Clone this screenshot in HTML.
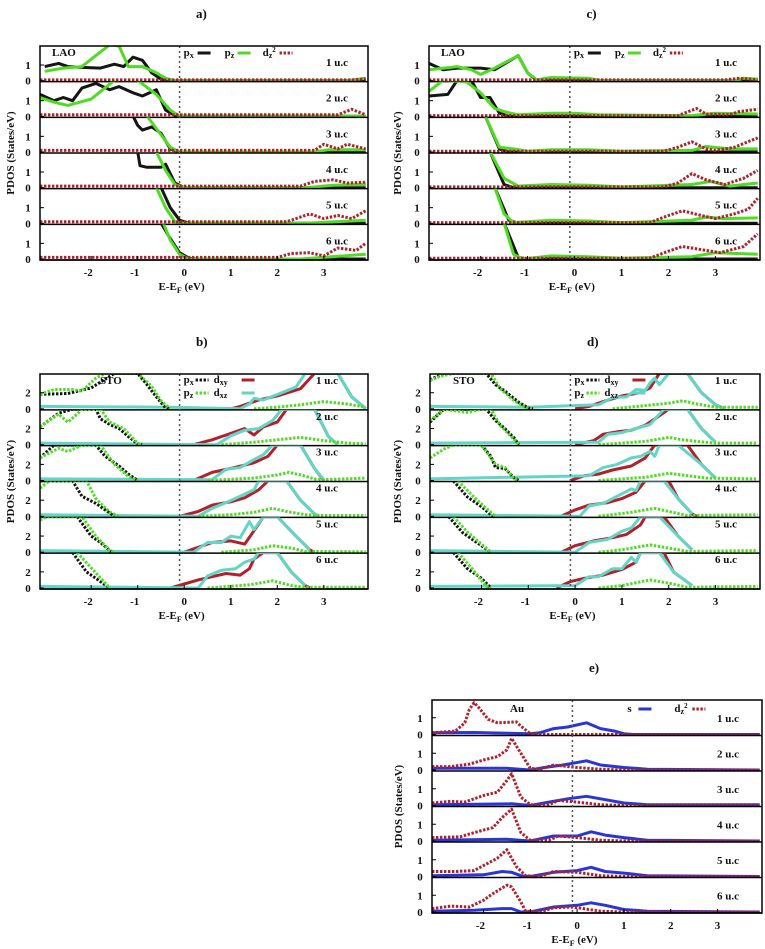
<!DOCTYPE html>
<html><head><meta charset="utf-8"><style>
body{margin:0;background:#fff;}
svg{display:block;}
text{font-family:"Liberation Serif",serif;font-weight:bold;fill:#111;}
</style></head><body>
<svg id="fig" width="765" height="949" viewBox="0 0 765 949" xmlns="http://www.w3.org/2000/svg"></svg>
<script>
// ---------- data (energy eV, PDOS) per panel, per series, per unit-cell subplot ----------
const xTicks=[-2,-1,0,1,2,3];
const ucLabels=["1 u.c","2 u.c","3 u.c","4 u.c","5 u.c","6 u.c"];
// Panel a (LAO)
const a_px=[[[-3,0.9],[-2.7,1.1],[-2.5,0.9],[-2.2,0.85],[-1.8,0.8],[-1.5,1.05],[-1.3,0.9],[-1.1,1.5],[-0.9,1.3],[-0.7,0.5],[-0.5,0.1],[-0.3,0],[3.9,0]],
[[-3.1,1.4],[-2.8,1.0],[-2.6,1.2],[-2.4,1.0],[-2.2,1.8],[-1.9,2.1],[-1.6,1.7],[-1.4,1.9],[-1.1,1.5],[-0.9,1.3],[-0.6,1.7],[-0.4,0.4],[-0.2,0.05],[0,0],[3.9,0]],
[[-1.1,2.3],[-1.0,1.7],[-0.9,1.4],[-0.7,1.6],[-0.5,1.2],[-0.3,0.2],[-0.1,0],[3.9,0]],
[[-1.0,2.3],[-0.95,1.4],[-0.8,1.3],[-0.5,1.3],[-0.4,1.5],[-0.2,0.3],[0,0],[3.9,0]],
[[-0.5,2.3],[-0.3,1.0],[-0.1,0.2],[0.1,0],[3.9,0]],
[[-0.5,2.3],[-0.3,1.3],[-0.1,0.4],[0.1,0.05],[0.3,0],[3.9,0]]];
const a_pz=[[[-3,0.6],[-2.6,0.8],[-2.2,0.9],[-1.9,1.6],[-1.6,2.3],[-1.4,2.2],[-1.2,0.9],[-0.9,0.9],[-0.6,0.5],[-0.4,0.15],[-0.2,0],[3.5,0],[3.9,0.15]],
[[-3.1,1.2],[-2.8,0.9],[-2.5,0.7],[-2,1.1],[-1.5,2.3],[-1,2.3],[-0.6,1.4],[-0.3,0.4],[-0.1,0],[3.9,0]],
[[-0.8,2.3],[-0.6,1.5],[-0.3,0.3],[-0.1,0],[2.8,0],[3.1,0.15],[3.9,0.15]],
[[-0.6,2.3],[-0.4,1.1],[-0.2,0.2],[0,0],[2.6,0],[3.2,0.15],[3.9,0.2]],
[[-0.6,2.3],[-0.4,1.0],[-0.2,0.1],[0,0],[2.6,0],[3.9,0.2]],
[[-0.45,2.3],[-0.3,1.2],[-0.1,0.3],[0.1,0],[2.5,0],[3.9,0.3]]];
const a_dz2=[[[-3.1,0.05],[3.6,0.05],[3.9,0.12]],
[[-3.1,0.1],[3.3,0.1],[3.6,0.45],[3.9,0.1]],
[[-3.1,0.1],[2.8,0.1],[3.0,0.5],[3.3,0.2],[3.5,0.5],[3.9,0.2]],
[[-3.1,0.1],[2.5,0.1],[2.8,0.4],[3.2,0.5],[3.5,0.3],[3.9,0.35]],
[[-3.1,0.1],[2.2,0.1],[2.7,0.6],[3.0,0.3],[3.3,0.5],[3.6,0.3],[3.9,0.8]],
[[-3.1,0.1],[2.0,0.1],[2.3,0.35],[2.7,0.4],[3.0,0.2],[3.3,0.7],[3.7,0.55],[3.9,1.0]]];
// Panel c (LAO)
const c_px=[[[-3.1,1.1],[-2.8,0.7],[-2.5,0.8],[-2,0.8],[-1.7,0.7],[-1.2,1.6],[-1.0,0.5],[-0.8,0],[3.9,0]],
[[-3.1,1.3],[-2.7,1.4],[-2.5,2.3],[-2.2,2.3],[-2,1.2],[-1.8,1.2],[-1.6,0.2],[-1.4,0],[3.9,0]],
[[-1.9,2.3],[-1.6,0.2],[-1.4,0],[3.9,0]],
[[-1.8,2.3],[-1.5,0.2],[-1.3,0],[3.9,0]],
[[-1.7,2.3],[-1.4,0.2],[-1.2,0],[3.9,0]],
[[-1.5,2.3],[-1.2,0.1],[-1.0,0],[3.9,0]]];
const c_pz=[[[-3.1,0.7],[-2.5,0.9],[-2.2,0.7],[-2,0.4],[-1.7,0.8],[-1.2,1.6],[-1,0.5],[-0.8,0.05],[-0.5,0.2],[0.3,0.15],[0.6,0],[3.4,0],[3.6,0.15],[3.9,0.1]],
[[-3.1,1.6],[-2.8,2.3],[-2.3,2.2],[-2,1.5],[-1.7,0.5],[-1.5,0.3],[-1.2,0.1],[-0.5,0.2],[0,0.2],[0.5,0.1],[2.5,0.05],[3,0.2],[3.9,0.15]],
[[-1.9,2.3],[-1.6,0.3],[-1.3,0.2],[-1,0.05],[-0.5,0.15],[0.3,0.15],[1,0.05],[2.5,0.1],[2.8,0.35],[3.3,0.2],[3.9,0.2]],
[[-1.8,2.3],[-1.5,0.6],[-1.2,0.1],[-0.5,0.2],[0.3,0.15],[1,0.05],[2.5,0.2],[2.9,0.4],[3.3,0.1],[3.9,0.3]],
[[-1.7,2.3],[-1.5,0.6],[-1.3,0.05],[-0.5,0.2],[0.3,0.15],[1,0.05],[2.5,0.2],[2.8,0.4],[3.2,0.3],[3.9,0.35]],
[[-1.5,2.3],[-1.3,0.3],[-1.1,0],[-0.5,0.2],[0.3,0.15],[1,0.05],[2.5,0.15],[3,0.4],[3.9,0.3]]];
const c_dz2=[[[-3.1,0.05],[3.2,0.05],[3.5,0.15],[3.9,0.05]],
[[-3.1,0.05],[2.2,0.05],[2.6,0.5],[2.8,0.15],[3.3,0.1],[3.5,0.3],[3.9,0.45]],
[[-3.1,0.05],[1.9,0.05],[2.2,0.3],[2.5,0.65],[2.8,0.2],[3,0.1],[3.4,0.3],[3.9,0.9]],
[[-3.1,0.05],[1.9,0.05],[2.2,0.3],[2.5,0.9],[2.8,0.5],[3.2,0.2],[3.6,0.6],[3.9,1.1]],
[[-3.1,0.05],[1.6,0.05],[2.0,0.5],[2.3,0.8],[2.7,0.5],[3.0,0.3],[3.4,0.6],[3.7,0.9],[3.9,1.6]],
[[-3.1,0.05],[1.6,0.05],[2.0,0.5],[2.3,0.8],[2.7,0.6],[3.1,0.4],[3.6,0.8],[3.9,1.6]]];
// Panel b (STO)
const b_px=[[[-3.1,1.8],[-2.5,1.9],[-2,2.6],[-1.5,4.4],[-1.0,4.4],[-0.8,3],[-0.6,1.5],[-0.4,0.1],[-0.3,0]],
[[-3.1,2.2],[-2.7,3.9],[-2.4,4.4],[-1.9,4.4],[-1.8,3.2],[-1.6,2.5],[-1.4,2.0],[-1.2,1.0],[-1.0,0.1],[-0.9,0]],
[[-3.1,2.8],[-2.8,4.4],[-1.9,4.4],[-1.7,3],[-1.4,1.8],[-1.2,0.8],[-1,0]],
[[-3.1,4.4],[-2.4,4.4],[-2.2,2.5],[-1.9,1.6],[-1.6,0.4],[-1.5,0]],
[[-2.3,4.4],[-2.0,2.0],[-1.8,1.2],[-1.6,0.2],[-1.55,0]],
[[-2.4,4.4],[-2.1,2],[-1.9,1.2],[-1.6,0]]];
const b_pz=[[[-3.1,1.8],[-2.8,2.4],[-2.4,2.4],[-2.2,2.2],[-1.9,3.8],[-1.7,4.4],[-1.0,4.4],[-0.7,2.8],[-0.5,1.0],[-0.3,0]],
[[-3.1,2.2],[-2.7,3.8],[-2.5,2.8],[-2.3,3.8],[-2.2,4.4],[-1.8,4.4],[-1.6,2.8],[-1.3,2.0],[-1.0,0.2],[-0.9,0]],
[[-3.1,2.8],[-2.7,4.0],[-2.5,3.6],[-2.2,4.4],[-1.8,4.4],[-1.5,2],[-1.2,0.5],[-1.0,0]],
[[-3.1,3.5],[-2.9,4.4],[-2.1,4.4],[-1.9,2.2],[-1.6,0.5],[-1.4,0]],
[[-3.1,4.0],[-2.95,4.4],[-2.2,4.4],[-1.9,2],[-1.6,0.2],[-1.5,0]],
[[-2.3,4.4],[-2,2.5],[-1.6,0]]];
const b_tail=[[[1.5,0],[2,0.2],[2.5,0.5],[3,0.9],[3.5,0.6],[3.9,0.2]],
[[0.8,0],[1.5,0.3],[2,0.6],[2.5,0.9],[3,0.5],[3.5,0.2],[3.9,0.1]],
[[0.5,0],[1.5,0.3],[2,0.7],[2.25,1.0],[2.5,0.7],[2.8,0.2],[3,0.1],[3.9,0.3]],
[[0.3,0],[1,0.2],[1.5,0.5],[1.9,1.0],[2.2,0.6],[2.6,0.2],[3.0,0.1],[3.9,0.1]],
[[0.8,0],[1.5,0.3],[1.9,0.8],[2.3,0.5],[2.6,0.1],[3.9,0.05]],
[[0.5,0],[1.4,0.4],[1.9,0.9],[2.3,0.3],[2.6,0.1],[3.9,0.1]]];
const b_dxy=[[[1.0,0],[1.2,0.3],[1.6,1.1],[2.0,1.6],[2.5,2.5],[2.8,4.4],[3.3,4.4],[3.6,1.5],[3.9,0]],
[[0.2,0],[0.6,0.6],[0.9,1.2],[1.3,2.0],[1.5,1.2],[1.7,2.2],[2.0,2.8],[2.2,4.4],[2.8,4.4],[3.1,1],[3.3,0]],
[[0.2,0],[0.6,1],[1.0,1.5],[1.5,2.2],[1.8,3.0],[2.0,4.4],[2.5,4.4],[2.8,1.5],[3.0,0]],
[[-0.1,0],[0.3,0.6],[0.6,1.4],[1.0,1.8],[1.3,2.3],[1.6,3.3],[1.8,4.4],[2.2,4.4],[2.5,2],[2.8,0.3],[2.9,0]],
[[0,0],[0.3,0.6],[0.6,1.2],[1.0,1.4],[1.3,1.0],[1.6,3.5],[1.7,4.4],[2.0,4.4],[2.4,2],[2.7,0.3],[2.8,0]],
[[-0.3,0],[0,0.5],[0.3,1],[0.6,1.4],[0.9,1.8],[1.2,1.6],[1.4,2.4],[1.5,3.6],[1.7,4.4],[2.0,4.4],[2.3,2],[2.6,0.3],[2.7,0]]];
const b_dxz=[[[-3.1,0.3],[-0.3,0.2],[1.2,0],[1.4,0.6],[1.5,1.3],[1.7,1.1],[2.1,2.0],[2.4,2.7],[2.6,4.4],[3.3,4.4],[3.6,1.5],[3.9,0]],
[[-3.1,0.2],[0.7,0],[1.0,1.1],[1.3,1.8],[1.6,2.0],[1.9,3.0],[2.1,4.4],[2.8,4.4],[3.1,1],[3.3,0]],
[[-3.1,0.2],[0.6,0.1],[0.9,1.4],[1.2,1.6],[1.5,2.6],[1.7,3.2],[1.9,4.4],[2.5,4.4],[2.8,1.5],[3.0,0.1]],
[[-3.1,0.2],[0.3,0],[0.6,1],[0.9,1.7],[1.2,2.5],[1.5,3.3],[1.6,4.4],[2.2,4.4],[2.5,2],[2.8,0.3],[2.9,0]],
[[-3.1,0.2],[0.2,0],[0.5,1.2],[0.8,1.2],[1.0,2.0],[1.2,1.8],[1.4,3.8],[1.5,2.8],[1.7,4.4],[2.0,4.4],[2.4,2],[2.7,0.3]],
[[-3.1,0.2],[0.3,0],[0.5,1.5],[0.8,2.2],[1.1,2.4],[1.3,3.2],[1.5,3.6],[1.6,4.4],[2.0,4.4],[2.3,2],[2.6,0.3]]];
// Panel d (STO)
const d_px=[[[-3.1,3.6],[-2.8,4.4],[-1.9,4.4],[-1.7,3],[-1.5,2.2],[-1.2,0.8],[-1.0,0.1],[-0.9,0]],
[[-3.1,2.8],[-2.8,4.4],[-1.9,4.4],[-1.7,3],[-1.5,2.0],[-1.3,0.8],[-1.2,0]],
[[-2.0,4.4],[-1.8,3],[-1.7,1.6],[-1.5,1.5],[-1.3,0.3],[-1.2,0]],
[[-2.6,4.4],[-2.3,2.4],[-2.0,1.2],[-1.8,0.2],[-1.75,0]],
[[-2.7,4.4],[-2.4,2.4],[-2.1,1.2],[-1.8,0]],
[[-2.6,4.4],[-2.3,2.4],[-2.0,1.2],[-1.8,0]]];
const d_pz=[[[-3.1,3.5],[-2.9,4.0],[-2.6,4.4],[-1.8,4.4],[-1.6,2.5],[-1.3,1.0],[-1.0,0]],
[[-3.1,3.0],[-2.8,4.4],[-2.3,4.0],[-2.0,4.4],[-1.8,4.4],[-1.6,2.4],[-1.3,0.6],[-1.2,0]],
[[-3.1,2.8],[-2.8,3.9],[-2.6,4.4],[-2.0,4.4],[-1.7,2.0],[-1.5,1.6],[-1.3,0.2],[-1.2,0]],
[[-2.5,4.4],[-2.2,2.6],[-1.9,1.0],[-1.7,0]],
[[-2.6,4.4],[-2.3,2.5],[-1.8,0]],
[[-2.5,4.4],[-2.2,2.4],[-1.9,0.2],[-1.8,0]]];
const d_tail=[[[0.8,0],[1.5,0.4],[2,0.7],[2.3,1.0],[2.6,0.6],[3,0.2],[3.9,0.2]],
[[0.5,0],[1.5,0.4],[2,0.9],[2.3,0.6],[2.6,0.4],[3,0.2],[3.9,0.2]],
[[0.5,0],[1.5,0.4],[2,0.9],[2.4,0.6],[2.8,0.3],[3.9,0.2]],
[[0.5,0],[1.2,0.5],[1.7,1.0],[2.0,0.6],[2.4,0.1],[3.9,0.2]],
[[0.5,0],[1.0,0.3],[1.6,0.9],[2.0,0.5],[2.4,0.1],[3.9,0.2]],
[[0.5,0],[1.0,0.3],[1.6,1.0],[2.0,0.6],[2.4,0.1],[3.9,0.2]]];
const d_dxy=[[[0,0],[0.3,0.3],[0.6,0.9],[1.0,1.6],[1.4,2.0],[1.6,2.6],[1.8,4.4],[2.4,4.4],[2.7,2],[3.0,0.5],[3.2,0]],
[[0,0],[0.4,0.5],[0.6,1.3],[0.9,1.6],[1.2,1.8],[1.5,2.4],[1.8,3.6],[2.0,4.4],[2.4,4.4],[2.7,2],[3.0,0.3]],
[[-0.1,0],[0.2,0.6],[0.5,0.8],[0.8,1.3],[1.2,1.8],[1.5,2.8],[1.7,4.4],[2.4,4.4],[2.7,2],[3.0,0.3]],
[[-0.3,0],[0,0.8],[0.3,1.4],[0.7,1.7],[1.0,2.2],[1.3,3.0],[1.5,4.4],[2.0,4.4],[2.2,2.2],[2.5,0.3],[2.6,0]],
[[-0.3,0],[0,0.8],[0.4,1.4],[0.8,1.8],[1.1,2.2],[1.4,3.4],[1.5,4.4],[1.9,4.4],[2.2,2],[2.5,0.3]],
[[-0.4,0],[-0.1,0.8],[0.2,1.2],[0.6,1.6],[1.0,2.3],[1.3,3.2],[1.4,4.4],[1.9,4.4],[2.1,2],[2.5,0.3]]];
const d_dxz=[[[-3.1,0.3],[-1,0.2],[0.5,0.5],[0.8,1.4],[1.1,1.5],[1.3,2.4],[1.5,2.3],[1.6,3.2],[1.7,3.8],[1.8,3.0],[2.0,4.4],[2.4,4.4],[2.7,2],[3.0,0.5],[3.2,0]],
[[-3.1,0.2],[0.5,0.3],[0.7,1.3],[1.0,1.5],[1.3,2.0],[1.6,2.5],[1.8,3.8],[1.9,4.4],[2.4,4.4],[2.7,2],[3.0,0.3]],
[[-3.1,0.2],[0.3,0.6],[0.6,1.6],[0.9,2.0],[1.2,2.8],[1.4,3.0],[1.6,3.6],[1.7,3.0],[1.8,4.4],[2.2,4.4],[2.7,2],[3.0,0.3]],
[[-3.1,0.2],[0.1,0],[0.3,1.3],[0.6,1.6],[0.9,2.5],[1.2,3.4],[1.3,3.2],[1.4,4.4],[1.9,4.4],[2.2,2.2],[2.5,0.3]],
[[-3.1,0.2],[0,0],[0.3,1.2],[0.7,1.6],[1.0,2.6],[1.2,3.0],[1.4,4.4],[1.8,4.4],[2.2,2],[2.5,0.3]],
[[-3.1,0.2],[0,0.3],[0.3,1.4],[0.5,1.4],[0.8,2.4],[1.0,2.4],[1.2,3.8],[1.3,3.2],[1.4,4.4],[1.8,4.4],[2.1,2],[2.5,0.3]]];
// Panel e (Au)
const e_s=[[[-3.1,0.1],[-2.2,0.12],[-1,0.05],[-0.8,0.1],[-0.5,0.35],[-0.2,0.45],[0.2,0.7],[0.5,0.35],[0.8,0.2],[1.0,0.05],[1.2,0],[3.9,0]],
[[-3.1,0.1],[-1.5,0.1],[-1.0,0],[-0.7,0.15],[-0.3,0.3],[0.2,0.55],[0.5,0.3],[1,0.15],[1.5,0.05],[3.9,0]],
[[-3.1,0.05],[-1.4,0.1],[-1,0],[-0.6,0.2],[-0.2,0.4],[0.2,0.55],[0.5,0.4],[1,0.15],[1.5,0.05],[3.9,0.05]],
[[-3.1,0.05],[-1.5,0.1],[-1,0],[-0.5,0.3],[0,0.3],[0.3,0.55],[0.6,0.35],[1,0.2],[1.5,0.05],[3.9,0]],
[[-3.1,0.05],[-2,0.1],[-1.6,0.3],[-1.4,0.25],[-1.2,0.05],[-1,0],[-0.5,0.25],[0,0.35],[0.3,0.55],[0.6,0.3],[1,0.2],[1.5,0.05],[3.9,0]],
[[-3.1,0.05],[-2.2,0.1],[-1.6,0.2],[-1.4,0.2],[-1.2,0],[-1,0],[-0.5,0.3],[0,0.4],[0.3,0.55],[0.6,0.4],[1,0.15],[1.5,0.05],[3.9,0]]];
const e_dz2=[[[-3.1,0.1],[-2.6,0.2],[-2.4,0.7],[-2.3,1.5],[-2.2,1.9],[-2.1,1.6],[-1.9,0.9],[-1.7,0.7],[-1.3,0.75],[-1.2,0.5],[-1.0,0.05],[-0.8,0],[3.9,0]],
[[-3.1,0.2],[-2.7,0.2],[-2.3,0.35],[-2.0,0.6],[-1.7,0.8],[-1.5,1.2],[-1.4,1.9],[-1.2,1.0],[-1.0,0.1],[-0.8,0.05],[-0.5,0.3],[0,0.15],[0.5,0.05],[1,0],[3.9,0]],
[[-3.1,0.15],[-2.7,0.25],[-2.4,0.2],[-2.0,0.6],[-1.7,0.8],[-1.5,1.5],[-1.4,1.9],[-1.2,0.5],[-1.0,0.05],[-0.6,0.05],[-0.4,0.3],[0,0.2],[0.5,0.05],[1,0],[3.9,0]],
[[-3.1,0.2],[-2.5,0.25],[-2.2,0.5],[-1.8,0.8],[-1.6,1.4],[-1.4,1.9],[-1.2,0.5],[-1,0.05],[-0.6,0.05],[-0.4,0.3],[0,0.2],[0.5,0.05],[1,0],[3.9,0]],
[[-3.1,0.3],[-2.6,0.3],[-2.2,0.35],[-1.9,0.8],[-1.7,1.1],[-1.5,1.6],[-1.3,0.6],[-1.1,0.05],[-0.8,0],[-0.5,0.3],[0,0.25],[0.5,0.05],[1,0],[3.9,0]],
[[-3.1,0.2],[-2.7,0.35],[-2.3,0.3],[-2.0,0.7],[-1.8,1.1],[-1.5,1.6],[-1.4,1.5],[-1.2,0.6],[-1.1,0.05],[-0.8,0],[-0.5,0.25],[-0.1,0.3],[0.5,0.05],[1,0],[3.9,0]]];

const BLACK="#151515",GREEN="#4fdc23",RED="#b3202c",CYAN="#62d6c6",BLUE="#2a35d8";
const NS="http://www.w3.org/2000/svg";
const svg=document.getElementById('fig');
function mk(tag,attrs,parent){const e=document.createElementNS(NS,tag);for(const k in attrs)e.setAttribute(k,attrs[k]);(parent||svg).appendChild(e);return e;}
function txt(s,x,y,size,parent,anchor){const t=mk('text',{x:x,y:y,'font-size':size,'text-anchor':anchor||'start'},parent);t.textContent=s;return t;}

const panels=[
 {id:'a',L:40,R:368,T:46,B:260,ymax:2.15,yt:[0,1],title:'a)',mat:'LAO',mx:52,my:56,ucx:326,ucdy:20,leg:'lao',
  series:[[a_px,BLACK,'px',false],[a_pz,GREEN,'pz',false],[a_dz2,RED,'dz2',true]],ytx:10},
 {id:'c',L:429,R:760,T:46,B:260,ymax:2.15,yt:[0,1],title:'c)',mat:'LAO',mx:441,my:56,ucx:715,ucdy:20,leg:'lao',
  series:[[c_px,BLACK,'px',false],[c_pz,GREEN,'pz',false],[c_dz2,RED,'dz2',true]],ytx:397},
 {id:'b',L:40,R:368,T:374,B:589,ymax:4.2,yt:[0,2],title:'b)',mat:'STO',mx:100,my:384,ucx:316,ucdy:10,leg:'sto',
  series:[[b_dxy,RED,'dxy',false],[b_dxz,CYAN,'dxz',false],[b_tail,GREEN,'pz-tail',true],[b_px,BLACK,'px',true],[b_pz,GREEN,'pz',true]],ytx:10},
 {id:'d',L:430,R:760,T:374,B:589,ymax:4.2,yt:[0,2],title:'d)',mat:'STO',mx:453,my:384,ucx:715,ucdy:10,leg:'sto',
  series:[[d_dxy,RED,'dxy',false],[d_dxz,CYAN,'dxz',false],[d_tail,GREEN,'pz-tail',true],[d_px,BLACK,'px',true],[d_pz,GREEN,'pz',true]],ytx:397},
 {id:'e',L:432,R:762,T:700,B:913,ymax:2.0,yt:[0,1],title:'e)',mat:'Au',mx:510,my:712,ucx:717,ucdy:22,leg:'au',
  series:[[e_s,BLUE,'s',false],[e_dz2,RED,'dz2',true]],ytx:398}
];
const XMIN=-3.1,XMAX=3.95;

panels.forEach(p=>{
  const g=mk('g',{});
  
  
  const sx=v=>p.L+(v-XMIN)/(XMAX-XMIN)*(p.R-p.L);
  const h=(p.B-p.T)/6;
  const cx=(p.L+p.R)/2;
  const tt=txt(p.title,cx-8,p.T-28,13,g);
  
  
  for(let i=0;i<6;i++){
    const top=p.T+i*h, bot=top+h;
    const sy=v=>bot-1-v/p.ymax*(h-2);
    const sub=mk('g',{},g);
    
    
    const sc=mk('clipPath',{id:'c'+p.id+i},g);
    mk('rect',{x:p.L,y:top,width:p.R-p.L,height:h},sc);
    const inner=mk('g',{'clip-path':'url(#c'+p.id+i+')'},sub);
    p.series.forEach(s=>{
      const pts=s[0][i].map(q=>sx(q[0]).toFixed(1)+','+sy(q[1]).toFixed(1)).join(' ');
      const pl=mk('polyline',{points:pts,fill:'none',stroke:s[1],'stroke-width':3,'stroke-linejoin':'round','stroke-dasharray':s[3]?'2.4,1.6':'none'},inner);
      
      
    });
    mk('line',{x1:p.L,x2:p.R,y1:bot,y2:bot,stroke:'#000','stroke-width':1.5},g);
    p.yt.forEach(v=>{
      const t=txt(String(v),p.L-12,sy(v)+4,11,g,'middle');
      
      
      mk('line',{x1:p.L,x2:p.L+4,y1:sy(v),y2:sy(v),stroke:'#000','stroke-width':1},g);
    });
    const u=txt(ucLabels[i],p.ucx,top+p.ucdy,11,g);
    
    
  }
  const fl=mk('line',{x1:sx(-0.1),x2:sx(-0.1),y1:p.T,y2:p.B,stroke:'#555','stroke-width':1.5,'stroke-dasharray':'2,3'},g);
  
  
  mk('rect',{x:p.L,y:p.T,width:p.R-p.L,height:p.B-p.T,fill:'none',stroke:'#000','stroke-width':1.5},g);
  xTicks.forEach(v=>{
    mk('line',{x1:sx(v),x2:sx(v),y1:p.B,y2:p.B-4,stroke:'#000','stroke-width':1},g);
    const t=txt(String(v),sx(v)-(v<0?3:0),p.B+16,11,g,'middle');
    
    
  });
  const xt=mk('text',{x:sx(-0.1)+2,y:p.B+30,'font-size':11,'text-anchor':'middle'},g);
  xt.innerHTML='E-E<tspan font-size="8" dy="3">F</tspan><tspan dy="-3"> (eV)</tspan>';
  
  
  const yc=(p.T+p.B)/2;
  const yt=txt('PDOS (States/eV)',p.ytx,yc,11,g,'middle');
  yt.setAttribute('transform','rotate(-90 '+p.ytx+' '+yc+')');
  yt.setAttribute('dy','4');
  
  
  const m=txt(p.mat,p.mx,p.my,11,g);
  
  
  const lg=mk('g',{},g);
  
  
  const fx=sx(-0.1);
  function entry(label,sub,x,y,sup){
    const t=mk('text',{x:x,y:y,'font-size':11},lg);
    t.innerHTML=label+'<tspan font-size="8" dy="2">'+sub+'</tspan>'+(sup?'<tspan font-size="7" dy="-6">2</tspan>':'');
    
    
  }
  function lline(x,y,color,dashed){mk('line',{x1:x,x2:x+13,y1:y,y2:y,stroke:color,'stroke-width':3,'stroke-dasharray':dashed?'2.4,1.6':'none'},lg);}
  if(p.leg==='lao'){
    const y=p.T+10;
    entry('p','x',fx+4,y); lline(fx+18,y-3,BLACK,false);
    entry('p','z',fx+45,y); lline(fx+58,y-3,GREEN,false);
    entry('d','z',fx+83,y,true); lline(fx+100,y-3,RED,true);
  } else if(p.leg==='sto'){
    const y1=p.T+9,y2=p.T+22;
    entry('p','x',fx+4,y1); lline(fx+16,y1-3,BLACK,true);
    entry('p','z',fx+4,y2); lline(fx+16,y2-3,GREEN,true);
    entry('d','xy',fx+34,y1); lline(fx+62,y1-3,RED,false);
    entry('d','xz',fx+34,y2); lline(fx+62,y2-3,CYAN,false);
  } else {
    const y=p.T+12;
    entry('s','',fx+55,y); lline(fx+66,y-3,BLUE,false);
    entry('d','z',fx+102,y,true); lline(fx+120,y-3,RED,true);
  }
});
</script>
</body></html>
